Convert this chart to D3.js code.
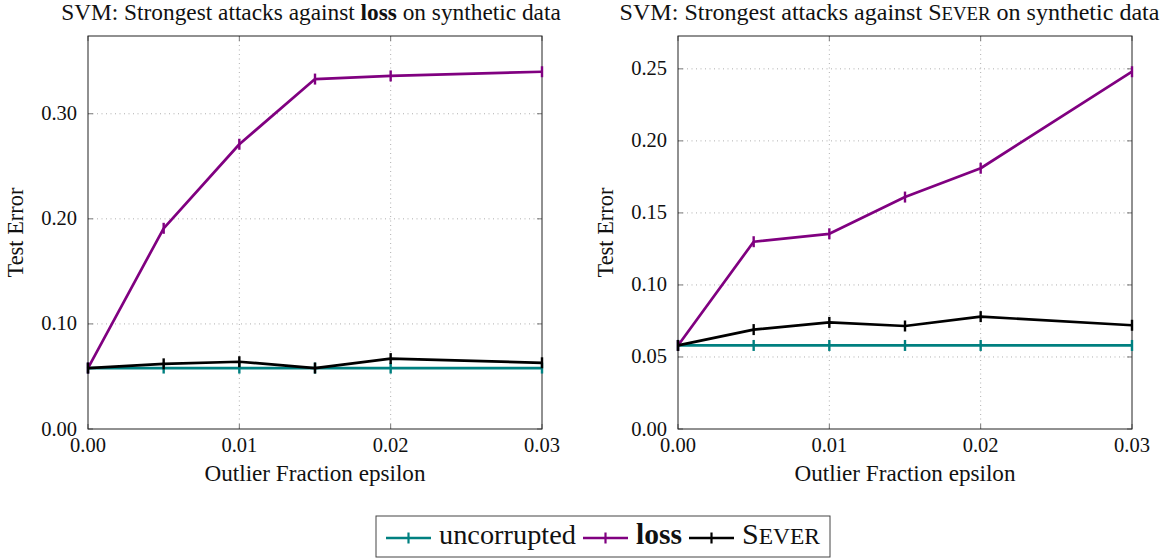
<!DOCTYPE html>
<html>
<head>
<meta charset="utf-8">
<script src="https://cdn.jsdelivr.net/npm/d3@7/dist/d3.min.js"></script>
<style>
  html, body { margin: 0; padding: 0; background: #fff; }
  svg { display: block; }
  text { font-family: "Liberation Serif", "Times New Roman", serif; fill: #111; }
</style>
</head>
<body>
<svg id="chart" width="1170" height="558"></svg>
<script>
// ---------------- data ----------------
const epsilon = [0.000, 0.005, 0.010, 0.015, 0.020, 0.030];
const xTicks = [0.00, 0.01, 0.02, 0.03];

// Left panel: attacks against loss
const leftUncorrupted = [0.058, 0.058, 0.058, 0.058, 0.058, 0.058];
const leftLoss        = [0.058, 0.191, 0.271, 0.333, 0.336, 0.340];
const leftSever       = [0.058, 0.062, 0.064, 0.058, 0.067, 0.063];
const leftYTicks = [0.00, 0.10, 0.20, 0.30];

// Right panel: attacks against Sever
const rightUncorrupted = [0.058, 0.058, 0.058, 0.058, 0.058, 0.058];
const rightLoss        = [0.058, 0.130, 0.1355, 0.161, 0.181, 0.248];
const rightSever       = [0.058, 0.069, 0.074, 0.0715, 0.078, 0.072];
const rightYTicks = [0.00, 0.05, 0.10, 0.15, 0.20, 0.25];

const seriesNames = ["uncorrupted", "loss", "Sever"];
const seriesColors = ["#008080", "#800080", "#000000"];

// ---------------- drawing ----------------
const svg = d3.select("#chart");
const fmt = d3.format(".2f");

function fitWidth(sel, target) {
  const w = sel.node().getComputedTextLength();
  const fs = parseFloat(sel.attr("font-size"));
  sel.attr("font-size", fs * target / w);
}

function addSeverText(sel) {
  sel.append("tspan").text("S");
  sel.append("tspan").style("font-size", "0.78em").text("EVER");
}

function panel(opts) {
  const { left, right, top, bottom, series, yTicks, titleParts, titleCx, titleW, ylabelX } = opts;
  const g = svg.append("g");
  const allVals = series.flat();
  const yMax = d3.max(allVals) * 1.1;
  const x = d3.scaleLinear().domain([0, 0.03]).range([left, right]);
  const y = d3.scaleLinear().domain([0, yMax]).range([bottom, top]);

  // grid (dotted)
  g.append("g").selectAll("line.gx").data(xTicks.slice(1, -1)).join("line")
    .attr("x1", d => x(d)).attr("x2", d => x(d)).attr("y1", top).attr("y2", bottom)
    .attr("stroke", "#9a9a9a").attr("stroke-width", 0.8).attr("stroke-dasharray", "1,3.5");
  g.append("g").selectAll("line.gy").data(yTicks.filter(d => d > 0)).join("line")
    .attr("x1", left).attr("x2", right).attr("y1", d => y(d)).attr("y2", d => y(d))
    .attr("stroke", "#9a9a9a").attr("stroke-width", 0.8).attr("stroke-dasharray", "1,3.5");

  // major ticks, inside, on all four sides
  const tk = 5;
  const tg = g.append("g").attr("stroke", "#777").attr("stroke-width", 1);
  xTicks.forEach(d => {
    tg.append("line").attr("x1", x(d)).attr("x2", x(d)).attr("y1", bottom).attr("y2", bottom - tk);
    tg.append("line").attr("x1", x(d)).attr("x2", x(d)).attr("y1", top).attr("y2", top + tk);
  });
  yTicks.forEach(d => {
    tg.append("line").attr("x1", left).attr("x2", left + tk).attr("y1", y(d)).attr("y2", y(d));
    tg.append("line").attr("x1", right).attr("x2", right - tk).attr("y1", y(d)).attr("y2", y(d));
  });

  // frame
  g.append("rect").attr("x", left).attr("y", top).attr("width", right - left).attr("height", bottom - top)
    .attr("fill", "none").attr("stroke", "#222").attr("stroke-width", 1);

  // tick labels
  g.append("g").selectAll("text").data(xTicks).join("text")
    .attr("x", d => x(d)).attr("y", bottom + 23).attr("text-anchor", "middle")
    .attr("font-size", 20.5).text(d => fmt(d));
  g.append("g").selectAll("text").data(yTicks).join("text")
    .attr("x", left - 11).attr("y", d => y(d) + 6.5).attr("text-anchor", "end")
    .attr("font-size", 20.5).text(d => fmt(d));

  // axis labels
  const xl = g.append("text").attr("x", (left + right) / 2).attr("y", bottom + 52)
    .attr("text-anchor", "middle").attr("font-size", 20).text("Outlier Fraction epsilon");
  fitWidth(xl, 221);
  const yl = g.append("text").attr("transform", `translate(${ylabelX},${(top + bottom) / 2}) rotate(-90)`)
    .attr("text-anchor", "middle").attr("font-size", 20).text("Test Error");
  fitWidth(yl, 90);

  // title
  const t = g.append("text").attr("x", titleCx).attr("y", 20).attr("text-anchor", "middle").attr("font-size", 20);
  titleParts(t);
  fitWidth(t, titleW);

  // series
  const line = d3.line().x((d, i) => x(epsilon[i])).y(d => y(d));
  series.forEach((vals, si) => {
    const sg = g.append("g");
    sg.append("path").datum(vals).attr("d", line).attr("fill", "none")
      .attr("stroke", seriesColors[si]).attr("stroke-width", 2.7).attr("stroke-linejoin", "round");
    sg.selectAll("line").data(vals).join("line")
      .attr("x1", (d, i) => x(epsilon[i])).attr("x2", (d, i) => x(epsilon[i]))
      .attr("y1", d => y(d) - 5.5).attr("y2", d => y(d) + 5.5)
      .attr("stroke", seriesColors[si]).attr("stroke-width", 2.4);
  });
}

panel({
  left: 88, right: 542, top: 36, bottom: 429,
  series: [leftUncorrupted, leftLoss, leftSever],
  yTicks: leftYTicks,
  titleCx: 311, titleW: 500, ylabelX: 23,
  titleParts: t => {
    t.append("tspan").text("SVM: Strongest attacks against ");
    t.append("tspan").attr("font-weight", "bold").text("loss");
    t.append("tspan").text(" on synthetic data");
  }
});

panel({
  left: 678, right: 1132, top: 36, bottom: 429,
  series: [rightUncorrupted, rightLoss, rightSever],
  yTicks: rightYTicks,
  titleCx: 889.5, titleW: 540, ylabelX: 613,
  titleParts: t => {
    t.append("tspan").text("SVM: Strongest attacks against ");
    addSeverText(t);
    t.append("tspan").text(" on synthetic data");
  }
});

// ---------------- legend ----------------
const lg = svg.append("g");
const legTargets = [137, 46, 78];
const lineLen = 45, gapLT = 8, gapTL = 7, pad = 10;
let cx = 0;
seriesNames.forEach((name, i) => {
  const it = lg.append("g");
  it.append("line").attr("x1", cx).attr("x2", cx + lineLen).attr("y1", 538).attr("y2", 538)
    .attr("stroke", seriesColors[i]).attr("stroke-width", 2.6);
  it.append("line").attr("x1", cx + lineLen / 2).attr("x2", cx + lineLen / 2).attr("y1", 532.5).attr("y2", 543.5)
    .attr("stroke", seriesColors[i]).attr("stroke-width", 2.2);
  const tx = it.append("text").attr("x", cx + lineLen + gapLT).attr("y", 544).attr("font-size", 24);
  if (i === 0) tx.text(name);
  else if (i === 1) tx.attr("font-weight", "bold").text(name);
  else addSeverText(tx);
  fitWidth(tx, legTargets[i]);
  cx += lineLen + gapLT + legTargets[i] + gapTL;
});
const contentW = cx - gapTL;
const boxW = contentW + 2 * pad;
const boxX = 603 - boxW / 2;
lg.attr("transform", `translate(${boxX + pad},0)`);
lg.insert("rect", ":first-child").attr("x", -pad).attr("y", 516).attr("width", boxW).attr("height", 41)
  .attr("fill", "#fff").attr("stroke", "#444").attr("stroke-width", 1);
</script>
</body>
</html>
